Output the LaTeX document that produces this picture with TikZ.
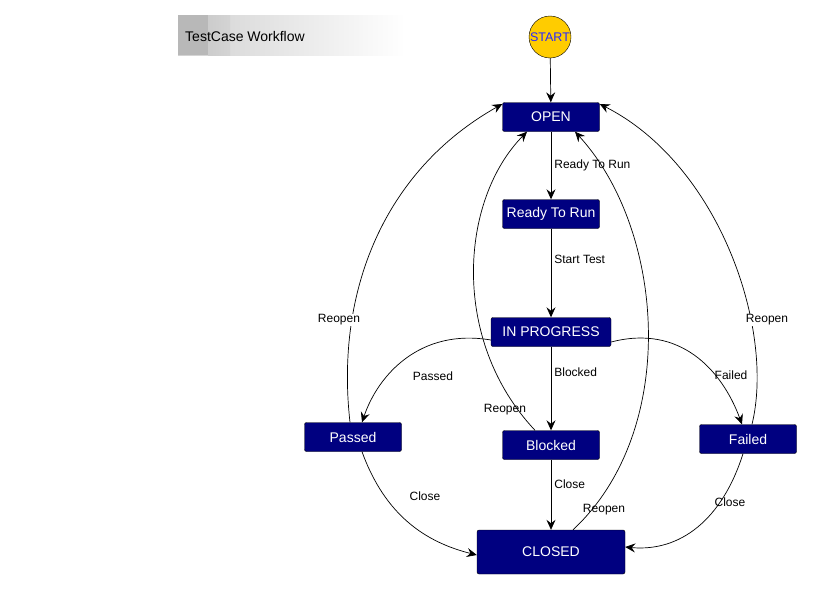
\documentclass[tikz,border=0pt]{standalone}
\usepackage{fontspec}
\setmainfont{Liberation Sans}
\usetikzlibrary{arrows.meta,calc}
\definecolor{stnavy}{RGB}{0,0,128}
\definecolor{stgold}{RGB}{255,204,0}
\definecolor{stblue}{RGB}{40,40,255}
\tikzset{
  state/.style={draw=black, fill=stnavy, text=white, rounded corners=2pt, minimum width=97pt, minimum height=29pt, inner sep=0pt, font=\fontsize{14}{16}\selectfont},
  conn/.style={draw=black, line width=0.7pt, -{Stealth[length=10pt,width=9pt,inset=3.5pt]}},
  lbl/.style={font=\fontsize{12}{14}\selectfont, text=black, inner sep=1pt}
}
\begin{document}
\begin{tikzpicture}[x=1pt,y=-1pt]
\useasboundingbox (0,0) rectangle (813,589);
\fill[white] (0,0) rectangle (813,589);
% title
\shade[left color=black!18, right color=white] (178,15) rectangle (405,55);
\fill[black!28] (178,15) rectangle (208,55);
\shade[left color=black!20, right color=black!17] (208,15) rectangle (230,55);
\node[anchor=west, font=\fontsize{14}{16}\selectfont, inner sep=0pt] (title) at (185,36) {TestCase Workflow};
% nodes
\node[circle, draw=black, fill=stgold, minimum size=42pt, inner sep=0pt, text=stblue, font=\fontsize{12.5}{14}\selectfont] (start) at (550,37) {START};
\node[state] (open) at (551,117) {OPEN};
\node[state] (ready) at (551,214) {Ready To Run};
\node[state, minimum width=120pt] (prog) at (551,332) {IN PROGRESS};
\node[state] (passed) at (353,437) {Passed};
\node[state] (blocked) at (551,445) {Blocked};
\node[state] (failed) at (748,439) {Failed};
\node[state, minimum width=148pt, minimum height=44pt] (closed) at (551,552) {CLOSED};
% straight edges
\draw[conn] (start) -- (open);
\draw[conn] (open) -- node[lbl, right=2pt] {Ready To Run} (ready);
\draw[conn] (ready) -- node[lbl, right=2pt, pos=0.35] {Start Test} (prog);
\draw[conn] (prog) -- node[lbl, right=2pt, pos=0.3] {Blocked} (blocked);
\draw[conn] (blocked) -- node[lbl, right=2pt, pos=0.35] {Close} (closed);
% branches
\draw[conn] ([yshift=-8pt]prog.west) .. controls (420,328) and (378,375) .. ([xshift=9pt]passed.north);
\node[lbl] (lpassed) at (433,376) {Passed};
\draw[conn] ([yshift=-10pt]prog.east) .. controls (680,324) and (722,370) .. ([xshift=-6pt]failed.north);
\node[lbl] (lfailed) at (731,375) {Failed};
% close edges
\draw[conn] ([xshift=9pt]passed.south) .. controls (385,515) and (425,542) .. ([yshift=-3pt]closed.west);
\node[lbl] (lclose1) at (425,496) {Close};
\draw[conn] ([xshift=-5pt]failed.south) .. controls (722,520) and (680,552) .. ([yshift=5pt]closed.east);
\node[lbl] (lclose2) at (730,502) {Close};
% reopen edges
\draw[conn] ([xshift=-3pt]passed.north) .. controls (335,290) and (385,170) .. ([yshift=13pt]open.west);
\node[lbl, fill=white] (lre1) at (339,320) {Reopen};
\draw[conn] ([xshift=-16pt]blocked.north) .. controls (450,340) and (460,200) .. ([xshift=-24pt]open.south);
\node[lbl] (lre2) at (505,410) {Reopen};
\draw[conn] ([xshift=22pt]closed.north) .. controls (680,430) and (665,230) .. ([xshift=24pt]open.south);
\node[lbl] (lre3) at (604,510) {Reopen};
\draw[conn] ([xshift=4pt]failed.north) .. controls (775,330) and (720,165) .. ([yshift=13pt]open.east);
\node[lbl, fill=white] (lre4) at (767,320) {Reopen};
\end{tikzpicture}
\end{document}
